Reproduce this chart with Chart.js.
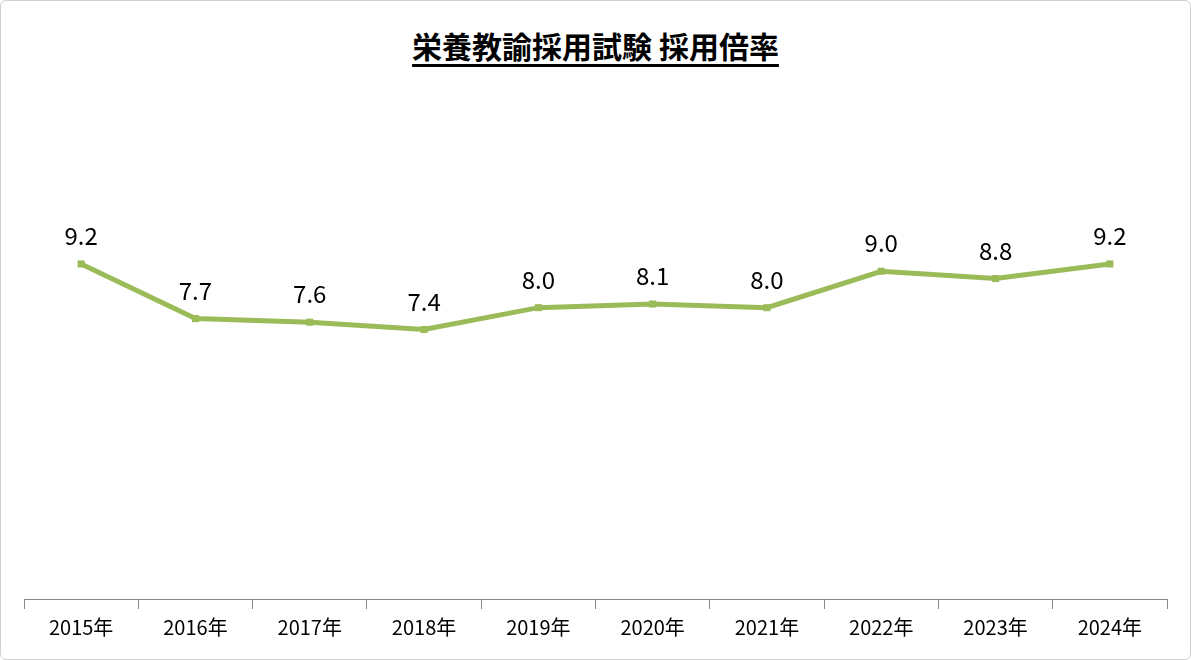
<!DOCTYPE html>
<html><head><meta charset="utf-8">
<script src="https://cdn.jsdelivr.net/npm/chart.js@4/dist/chart.umd.min.js"></script>
<style>
html,body{margin:0;padding:0;background:#fff;}
#wrap{position:relative;width:1191px;height:660px;box-sizing:border-box;border:1px solid #d0d0d0;border-radius:6px;overflow:hidden;}
#t{position:absolute;top:22px;left:0;width:100%;text-align:center;font:bold 30px "Noto Sans CJK JP";text-decoration:underline;text-underline-offset:6px;color:#000;}
canvas{position:absolute;left:0;top:0;}
</style></head><body>
<div id="wrap"><div id="t">栄養教諭採用試験 採用倍率</div><canvas id="c" width="1189" height="658"></canvas></div>
<script>
const categories=["2015年","2016年","2017年","2018年","2019年","2020年","2021年","2022年","2023年","2024年"];
const values=[9.2,7.7,7.6,7.4,8.0,8.1,8.0,9.0,8.8,9.2];
const labelPlugin={id:'lbl',afterDatasetsDraw(ch){const ctx=ch.ctx;const m=ch.getDatasetMeta(0);ctx.save();ctx.font='24px "Noto Sans CJK JP", "Noto Sans"';ctx.fillStyle='#000';ctx.textAlign='center';ctx.textBaseline='bottom';
m.data.forEach((p,i)=>ctx.fillText(values[i].toFixed(1),p.x,p.y-16));ctx.restore();}};
new Chart(document.getElementById('c'),{type:'line',data:{labels:categories,datasets:[{data:values,borderColor:'#9bbb59',backgroundColor:'#9bbb59',borderWidth:5,pointStyle:'rect',pointRadius:5,pointBorderWidth:0,tension:0}]},
options:{responsive:false,animation:false,layout:{padding:{top:161,left:23,right:23,bottom:14}},plugins:{legend:{display:false},tooltip:{enabled:false}},
scales:{y:{display:false,min:0,max:12},x:{offset:true,grid:{offset:true,drawOnChartArea:false,drawTicks:true,tickLength:10,color:'#888'},border:{color:'#888'},ticks:{color:'#000',font:{size:20,family:'"Noto Sans CJK JP"'},padding:6}}}},plugins:[labelPlugin]});
</script></body></html>
